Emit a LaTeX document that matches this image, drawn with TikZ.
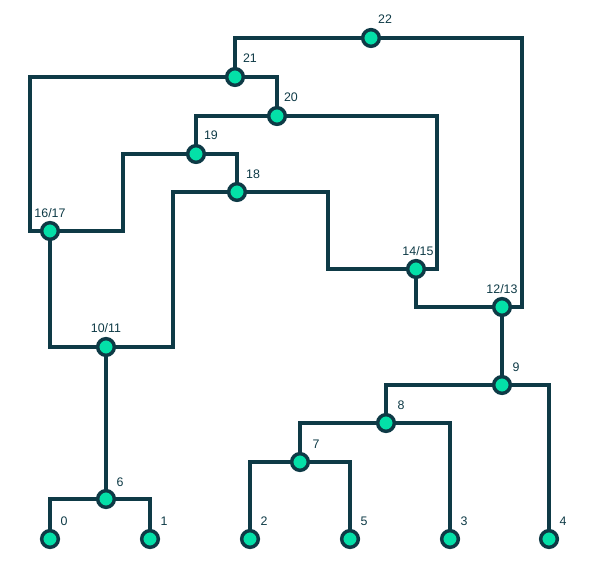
\documentclass[tikz,border=0pt]{standalone}
\usepackage{fontspec}
\setmainfont{Liberation Sans}
\usetikzlibrary{backgrounds,calc}
\definecolor{edgecol}{RGB}{14,58,70}
\definecolor{dotfill}{RGB}{4,224,168}
\begin{document}
\begin{tikzpicture}[x=0.75pt,y=-0.75pt,
  dot/.style={circle,draw=edgecol,fill=dotfill,line width=2.6pt,minimum size=12.5pt,inner sep=0pt},
  lbl/.style={text=edgecol,font=\fontsize{9.3}{11}\selectfont,inner sep=0pt},
  link/.style={draw=edgecol,line width=2.7pt,line cap=rect}]
\useasboundingbox (0,0) rectangle (590,574);
% leaves
\node[dot] (n0) at (50,539) {};
\node[dot] (n1) at (150,539) {};
\node[dot] (n2) at (250,539) {};
\node[dot] (n5) at (350,539) {};
\node[dot] (n3) at (450,539) {};
\node[dot] (n4) at (549,539) {};
% merges
\node[dot] (n6) at (106,499) {};
\node[dot] (n7) at (300,462) {};
\node[dot] (n8) at (386,423) {};
\node[dot] (n9) at (502,385) {};
\node[dot] (n1011) at (106,347) {};
\node[dot] (n1213) at (502,307) {};
\node[dot] (n1415) at (416,269) {};
\node[dot] (n1617) at (50,231) {};
\node[dot] (n18) at (237,192) {};
\node[dot] (n19) at (196,154) {};
\node[dot] (n20) at (277,116) {};
\node[dot] (n21) at (235,77) {};
\node[dot] (n22) at (371,38) {};
% labels
\node[lbl] (l0) at ($(n0)+(14,-18)$) {0};
\node[lbl] (l1) at ($(n1)+(14,-18)$) {1};
\node[lbl] (l2) at ($(n2)+(14,-18)$) {2};
\node[lbl] (l5) at ($(n5)+(14,-18)$) {5};
\node[lbl] (l3) at ($(n3)+(14,-18)$) {3};
\node[lbl] (l4) at ($(n4)+(14,-18)$) {4};
\node[lbl] (l6) at ($(n6)+(14,-17)$) {6};
\node[lbl] (l7) at ($(n7)+(16,-18)$) {7};
\node[lbl] (l8) at ($(n8)+(15,-18)$) {8};
\node[lbl] (l9) at ($(n9)+(14,-18)$) {9};
\node[lbl] (l1011) at ($(n1011)+(0,-19)$) {10/11};
\node[lbl] (l1213) at ($(n1213)+(0,-18)$) {12/13};
\node[lbl] (l1415) at ($(n1415)+(2,-18)$) {14/15};
\node[lbl] (l1617) at ($(n1617)+(0,-18)$) {16/17};
\node[lbl] (l18) at ($(n18)+(16,-18)$) {18};
\node[lbl] (l19) at ($(n19)+(15,-19)$) {19};
\node[lbl] (l20) at ($(n20)+(14,-19)$) {20};
\node[lbl] (l21) at ($(n21)+(15,-19)$) {21};
\node[lbl] (l22) at ($(n22)+(14,-19)$) {22};
% tree links
\begin{scope}[on background layer]
\path[link] (n6.center) -| (n0.center);
\path[link] (n6.center) -| (n1.center);
\path[link] (n7.center) -| (n2.center);
\path[link] (n7.center) -| (n5.center);
\path[link] (n8.center) -| (n7.center);
\path[link] (n8.center) -| (n3.center);
\path[link] (n9.center) -| (n8.center);
\path[link] (n9.center) -| (n4.center);
\path[link] (n1213.center) -- (n9.center);
\path[link] (n1213.center) -| (n1415.center);
\path[link] (n1213.center) -- ++(20,0) |- (n22.center);
\path[link] (n1415.center) -- ++(21,0) |- (n20.center);
\path[link] (n1415.center) -- ++(-88,0) |- (n18.center);
\path[link] (n18.center) -- ++(-64,0) |- (n1011.center);
\path[link] (n1011.center) -- (n6.center);
\path[link] (n1011.center) -| (n1617.center);
\path[link] (n19.center) -| (n18.center);
\path[link] (n1617.center) -- ++(73,0) |- (n19.center);
\path[link] (n1617.center) -- ++(-20,0) |- (n21.center);
\path[link] (n19.center) |- (n20.center);
\path[link] (n21.center) -| (n20.center);
\path[link] (n21.center) |- (n22.center);
\end{scope}
\end{tikzpicture}
\end{document}
